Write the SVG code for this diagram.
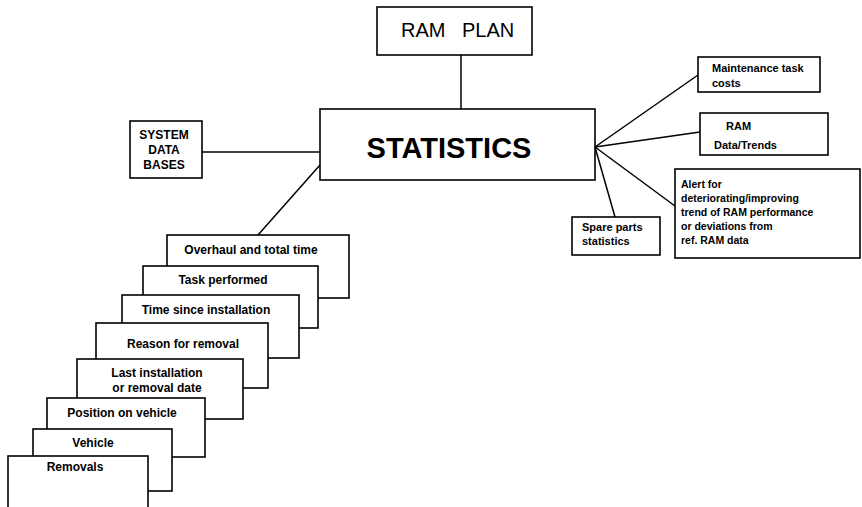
<svg xmlns="http://www.w3.org/2000/svg" width="862" height="507" viewBox="0 0 862 507">
  <style>
    .box { fill: #fff; stroke: #000; stroke-width: 1.6; }
    .link { fill: none; stroke: #000; stroke-width: 1.5; }
    .t { font-family: "Liberation Sans", Arial, sans-serif; font-weight: bold; fill: #000; }
    .s12 { font-size: 12px; }
    .s11 { font-size: 11px; }
    .s10 { font-size: 10.5px; }
    .mid { text-anchor: middle; }
  </style>
  <rect width="862" height="507" fill="#fff"/>

  <!-- connectors -->
  <g id="connectors">
    <line class="link" x1="461" y1="55" x2="461" y2="109"/>
    <line class="link" x1="202" y1="152" x2="320" y2="152"/>
    <line class="link" x1="320" y1="165" x2="258" y2="235"/>
    <line class="link" x1="595" y1="147" x2="698" y2="75"/>
    <line class="link" x1="595" y1="147" x2="700" y2="132"/>
    <line class="link" x1="595" y1="147" x2="675" y2="206"/>
    <line class="link" x1="595" y1="147" x2="615" y2="217"/>
  </g>

  <g id="ram-plan">
    <rect class="box" x="377" y="7" width="155" height="48"/>
    <text class="t" style="font-weight:normal" font-size="20" x="401" y="37">RAM</text>
    <text class="t" style="font-weight:normal" font-size="20" x="462" y="37">PLAN</text>
  </g>

  <g id="statistics">
    <rect class="box" x="320" y="109" width="275" height="71" stroke-width="2"/>
    <text class="t mid" font-size="29" x="449" y="158">STATISTICS</text>
  </g>

  <g id="system-data-bases">
    <rect class="box" x="130" y="121" width="72" height="57"/>
    <text class="t s12 mid" x="164" y="139">SYSTEM</text>
    <text class="t s12 mid" x="164" y="154">DATA</text>
    <text class="t s12 mid" x="164" y="169">BASES</text>
  </g>

  <g id="maintenance-costs">
    <rect class="box" x="698" y="57" width="122" height="35"/>
    <text class="t s11" x="712" y="72">Maintenance task</text>
    <text class="t s11" x="712" y="87">costs</text>
  </g>

  <g id="ram-data-trends">
    <rect class="box" x="700" y="113" width="128" height="42"/>
    <text class="t s11" x="726" y="130">RAM</text>
    <text class="t s11" x="714" y="149">Data/Trends</text>
  </g>

  <g id="alert">
    <rect class="box" x="675" y="169" width="185" height="89"/>
    <text class="t s10" x="681" y="188">Alert for</text>
    <text class="t s10" x="681" y="202">deteriorating/improving</text>
    <text class="t s10" x="681" y="216">trend of RAM performance</text>
    <text class="t s10" x="681" y="230">or deviations from</text>
    <text class="t s10" x="681" y="244">ref. RAM data</text>
  </g>

  <g id="spare-parts">
    <rect class="box" x="572" y="217" width="88" height="38"/>
    <text class="t s11" x="582" y="231">Spare parts</text>
    <text class="t s11" x="582" y="245">statistics</text>
  </g>

  <!-- stacked record cards, back to front -->
  <g id="overhaul">
    <rect class="box" x="167" y="235" width="182" height="63"/>
    <text class="t s12 mid" x="251" y="254">Overhaul and total time</text>
  </g>
  <g id="task-performed">
    <rect class="box" x="143" y="266" width="175" height="62"/>
    <text class="t s12 mid" x="223" y="284">Task performed</text>
  </g>
  <g id="time-since-installation">
    <rect class="box" x="122" y="295" width="177" height="63"/>
    <text class="t s12 mid" x="206" y="314">Time since installation</text>
  </g>
  <g id="reason-for-removal">
    <rect class="box" x="96" y="323" width="172" height="65"/>
    <text class="t s12 mid" x="183" y="348">Reason for removal</text>
  </g>
  <g id="last-installation">
    <rect class="box" x="77" y="359" width="166" height="60"/>
    <text class="t s12 mid" x="157" y="377">Last installation</text>
    <text class="t s12 mid" x="157" y="392">or removal date</text>
  </g>
  <g id="position-on-vehicle">
    <rect class="box" x="47" y="398" width="158" height="59"/>
    <text class="t s12 mid" x="122" y="417">Position on vehicle</text>
  </g>
  <g id="vehicle">
    <rect class="box" x="33" y="429" width="139" height="62"/>
    <text class="t s12 mid" x="93" y="447">Vehicle</text>
  </g>
  <g id="removals">
    <rect class="box" x="8" y="456" width="140" height="60"/>
    <text class="t s12 mid" x="75" y="471">Removals</text>
  </g>
</svg>
